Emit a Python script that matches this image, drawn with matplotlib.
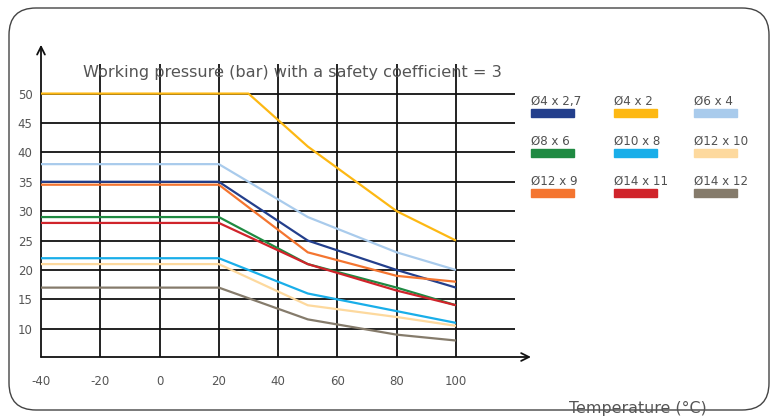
import matplotlib
matplotlib.use("Agg")
import matplotlib.pyplot as plt
from matplotlib.patches import FancyBboxPatch, Rectangle

plt.rcParams["axes.unicode_minus"] = False

# temperatures (deg C) and working pressure (bar) per tube size
names = ["Ø4 x 2,7", "Ø4 x 2", "Ø6 x 4",
         "Ø8 x 6", "Ø10 x 8", "Ø12 x 10",
         "Ø12 x 9", "Ø14 x 11", "Ø14 x 12"]
colors = ["#233f8c", "#fdb813", "#a9cbec",
          "#1f8a42", "#19aee9", "#fdd99e",
          "#f47530", "#d0242b", "#857b6b"]

temp_std = [-40, 20, 50, 80, 100]
temp_42 = [-40, 30, 50, 80, 100]

p_4x27 = [35, 35, 25, 20, 17]
p_4x2 = [50, 50, 41, 30, 25]
p_6x4 = [38, 38, 29, 23, 20]
p_8x6 = [29, 29, 21, 17, 14]
p_10x8 = [22, 22, 16, 13, 11]
p_12x10 = [21, 21, 14, 12, 10.5]
p_12x9 = [34.5, 34.5, 23, 19, 18]
p_14x11 = [28, 28, 21, 16.5, 14]
p_14x12 = [17, 17, 11.6, 9, 8]

series = [(temp_std, p_4x27), (temp_42, p_4x2), (temp_std, p_6x4),
          (temp_std, p_8x6), (temp_std, p_10x8), (temp_std, p_12x10),
          (temp_std, p_12x9), (temp_std, p_14x11), (temp_std, p_14x12)]

xticks = [-40, -20, 0, 20, 40, 60, 80, 100]
yticks = [10, 15, 20, 25, 30, 35, 40, 45, 50]

W, H = 771, 417
fig = plt.figure(figsize=(W / 100, H / 100), dpi=100)

# axes placed in pixels: x -40 -> 41px, 20 deg = 59.3px ; y 50 -> 94px, 5 bar = 29.4px
xmin, xmax = -40, 125.3
ymin, ymax = 5.2, 58.3
pxx, pxy = 2.964, 5.88
left = 41
bottom = 357
ax = fig.add_axes([left / W, (H - bottom) / H,
                   (xmax - xmin) * pxx / W, (ymax - ymin) * pxy / H])
ax.set_xlim(xmin, xmax)
ax.set_ylim(ymin, ymax)
for s in ax.spines.values():
    s.set_visible(False)

# grid
ax.hlines(yticks, -40, 120, color="#111111", lw=1.3, zorder=1)
ax.vlines(xticks[1:], ymin, 55, color="#111111", lw=1.3, zorder=1)

# axes with arrows
ax.annotate("", xy=(xmax, ymin), xytext=(-40, ymin),
            arrowprops=dict(arrowstyle="->", color="#111111", lw=1.3,
                            mutation_scale=14, shrinkA=0, shrinkB=0),
            annotation_clip=False)
ax.annotate("", xy=(-40, ymax), xytext=(-40, ymin),
            arrowprops=dict(arrowstyle="->", color="#111111", lw=1.3,
                            mutation_scale=14, shrinkA=0, shrinkB=0),
            annotation_clip=False)

for (t, p), c in zip(series, colors):
    ax.plot(t, p, color=c, lw=1.6, zorder=3, solid_capstyle="butt")

ax.set_xticks(xticks)
ax.set_yticks(yticks)
ax.tick_params(length=0, labelsize=8.5, labelcolor="#555555")
ax.tick_params(axis="x", pad=13)
ax.tick_params(axis="y", pad=6)

fig.text(83 / W, 1 - 72 / H, "Working pressure (bar) with a safety coefficient = 3",
         fontsize=11.6, color="#555555", va="center", ha="left")
fig.text(569 / W, 1 - 408 / H, "Temperature (°C)",
         fontsize=11.4, color="#555555", va="center", ha="left")

# legend grid (3 x 3): label above colour swatch
col_x = [531, 614, 694]
row_y = [101, 141, 181]
for i, (n, c) in enumerate(zip(names, colors)):
    cx = col_x[i % 3]
    ry = row_y[i // 3]
    fig.text(cx / W, 1 - ry / H, n, fontsize=8.6, color="#505050",
             va="center", ha="left")
    fig.patches.append(Rectangle(((cx) / 100, (H - ry - 16) / 100), 43 / 100, 8 / 100,
                                 transform=fig.dpi_scale_trans, color=c,
                                 figure=fig))

# rounded frame
fig.patches.append(FancyBboxPatch((9 / 100, 7 / 100), 760 / 100, 402 / 100,
                                  boxstyle="round,pad=0,rounding_size=0.27",
                                  transform=fig.dpi_scale_trans, fill=False,
                                  ec="#444444", lw=1.0, figure=fig))

fig.savefig("out.png", dpi=100)
